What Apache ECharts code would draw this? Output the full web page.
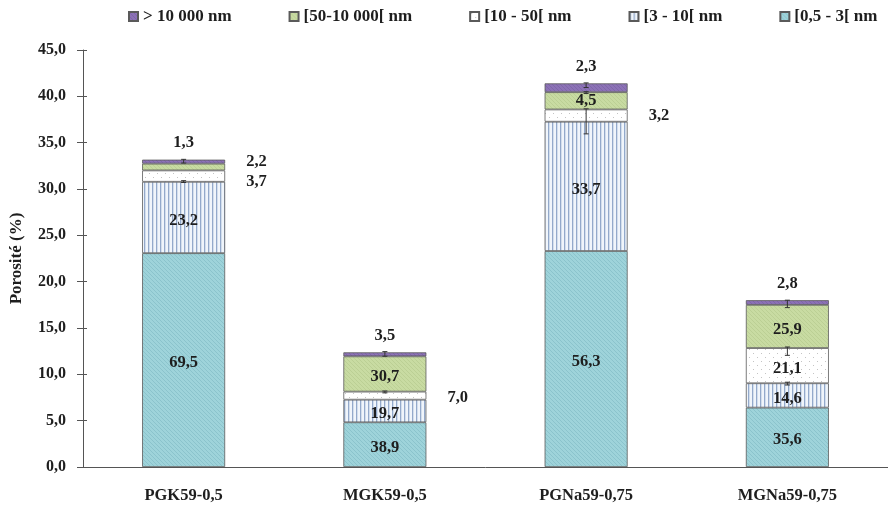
<!DOCTYPE html>
<html>
<head>
<meta charset="utf-8">
<script src="https://cdn.jsdelivr.net/npm/echarts@6/dist/echarts.min.js"></script>
<style>
  html, body { margin: 0; padding: 0; background: #fff; }
  #chart { width: 888px; height: 506px; }
</style>
</head>
<body>
<div id="chart"></div>
<script>
// Samples and total porosity (%)
const categories = ['PGK59-0,5', 'MGK59-0,5', 'PGNa59-0,75', 'MGNa59-0,75'];
const totalPorosity = [33.2, 12.4, 41.4, 18.0];

// Share of each pore-size class in the total porosity (%)
const share05to3 = [69.5, 38.9, 56.3, 35.6];
const share3to10 = [23.2, 19.7, 33.7, 14.6];
const share10to50 = [3.7, 7.0, 3.2, 21.1];
const share50to10000 = [2.2, 30.7, 4.5, 25.9];
const shareAbove10000 = [1.3, 3.5, 2.3, 2.8];

const classNames = ['[0,5 - 3[ nm', '[3 - 10[ nm', '[10 - 50[ nm', '[50-10 000[ nm', '> 10 000 nm'];
const yTicks = [0, 5, 10, 15, 20, 25, 30, 35, 40, 45];

// Error bars: [sample index, centre, half range]
const errorBars = [
  [0, 33.0, 0.2], [0, 30.8, 0.1],
  [1, 12.2, 0.25], [1, 8.1, 0.1],
  [2, 41.2, 0.25], [2, 40.4, 0.1], [2, 37.3, 1.35],
  [3, 17.6, 0.4], [3, 12.5, 0.45], [3, 9.0, 0.15]
];

const FONT = 'Liberation Serif';

function makePattern(w, h, draw) {
  const c = document.createElement('canvas');
  c.width = w; c.height = h;
  draw(c.getContext('2d'), w, h);
  return { image: c, repeat: 'repeat' };
}
function hatch(bg, line) {
  return makePattern(4, 4, (g, w, h) => {
    g.fillStyle = bg; g.fillRect(0, 0, w, h);
    g.strokeStyle = line; g.lineWidth = 0.8;
    g.beginPath();
    g.moveTo(0, 0); g.lineTo(w, h);
    g.moveTo(-w, 0); g.lineTo(w, 2 * h);
    g.moveTo(0, -h); g.lineTo(2 * w, h);
    g.stroke();
  });
}
const fills = [
  hatch('#9ED3DA', '#86BFC8'),
  makePattern(4, 4, (g, w, h) => {
    g.fillStyle = '#F0F5FB'; g.fillRect(0, 0, w, h);
    g.fillStyle = '#93A9CB'; g.fillRect(0, 0, 1.3, h);
  }),
  makePattern(8, 8, (g, w, h) => {
    g.fillStyle = '#FFFFFF'; g.fillRect(0, 0, w, h);
    g.fillStyle = '#C4C4C4';
    g.fillRect(1, 1, 1, 1); g.fillRect(5, 5, 1, 1);
  }),
  hatch('#C8DBA2', '#B7CC90'),
  hatch('#8C72B6', '#7C63A6')
];

const shares = [share05to3, share3to10, share10to50, share50to10000, shareAbove10000];

// Label placement per class and sample: [position, vertical offset]
const labelPlacement = [
  [['inside', 3], ['inside', 3], ['inside', 3], ['inside', 2]],
  [['inside', 3], ['inside', 3], ['inside', 3], ['inside', 3]],
  [['right', 6], ['right', 2], ['right', 0], ['inside', 3]],
  [['right', -5], ['inside', 3], ['inside', 0], ['inside', 3]],
  [['top'], ['top'], ['top'], ['top']]
];

const fmt = v => v.toFixed(1).replace('.', ',');

const barSeries = shares.map((arr, k) => ({
  name: classNames[k],
  type: 'bar',
  stack: 'porosity',
  barWidth: 83,
  itemStyle: { color: fills[k], borderColor: '#5a5a5a', borderWidth: 0.8 },
  data: arr.map((pct, i) => {
    const pl = labelPlacement[k][i];
    const label = {
      show: true,
      position: pl[0],
      formatter: () => fmt(pct)
    };
    if (pl[0] === 'right') { label.distance = 21; label.offset = [0, pl[1]]; }
    if (pl[0] === 'inside') { label.offset = [0, pl[1]]; }
    if (pl[0] === 'top') { label.distance = 8; }
    return { value: totalPorosity[i] * pct / 100, label };
  }),
  label: {
    fontFamily: FONT, fontWeight: 'bold', fontSize: 16.5, color: '#1e1e1e'
  },
  emphasis: { disabled: true },
  z: 2
}));

const errorSeries = {
  type: 'custom',
  name: 'err',
  z: 5,
  silent: true,
  data: errorBars.map(e => [e[0], e[1] - e[2], e[1] + e[2]]),
  renderItem: (params, api) => {
    const lo = api.coord([api.value(0), api.value(1)]);
    const hi = api.coord([api.value(0), api.value(2)]);
    const x = lo[0], cw = 2.5;
    const style = { stroke: '#333', lineWidth: 1 };
    return {
      type: 'group',
      children: [
        { type: 'line', shape: { x1: x, y1: lo[1], x2: x, y2: hi[1] }, style },
        { type: 'line', shape: { x1: x - cw, y1: lo[1], x2: x + cw, y2: lo[1] }, style },
        { type: 'line', shape: { x1: x - cw, y1: hi[1], x2: x + cw, y2: hi[1] }, style }
      ]
    };
  }
};

const axisFont = { fontFamily: FONT, fontWeight: 'bold', color: '#1e1e1e' };

const chart = echarts.init(document.getElementById('chart'), null, { renderer: 'canvas' });
chart.setOption({
  animation: false,
  backgroundColor: '#ffffff',
  textStyle: { fontFamily: FONT },
  legend: {
    data: classNames.slice().reverse(),
    top: 3,
    left: 123,
    itemWidth: 9,
    itemHeight: 9,
    itemGap: 57,
    icon: 'rect',
    textStyle: Object.assign({ fontSize: 17 }, axisFont)
  },
  grid: { left: 78, right: -17, top: 50, bottom: 39 },
  xAxis: {
    type: 'category',
    data: categories,
    axisLine: { lineStyle: { color: '#555', width: 1 } },
    axisTick: { show: false },
    axisLabel: Object.assign({ margin: 20, fontSize: 16.5 }, axisFont)
  },
  yAxis: [{
    type: 'value',
    min: yTicks[0],
    max: yTicks[yTicks.length - 1],
    interval: 5,
    name: 'Porosité (%)',
    nameLocation: 'middle',
    nameRotate: 90,
    nameGap: 58,
    nameTextStyle: Object.assign({ fontSize: 17 }, axisFont),
    axisLine: { show: true, lineStyle: { color: '#555', width: 1 } },
    axisTick: { show: true, length: 6, lineStyle: { color: '#555' } },
    splitLine: { show: false },
    axisLabel: Object.assign({ margin: 17, fontSize: 16, formatter: v => fmt(v) }, axisFont)
  }, {
    // inner half of the crossing tick marks
    type: 'value',
    position: 'left',
    min: yTicks[0],
    max: yTicks[yTicks.length - 1],
    interval: 5,
    axisLine: { show: false },
    axisTick: { show: true, inside: true, length: 4, lineStyle: { color: '#555' } },
    axisLabel: { show: false },
    splitLine: { show: false }
  }],
  series: [...barSeries, errorSeries]
});
</script>
</body>
</html>
